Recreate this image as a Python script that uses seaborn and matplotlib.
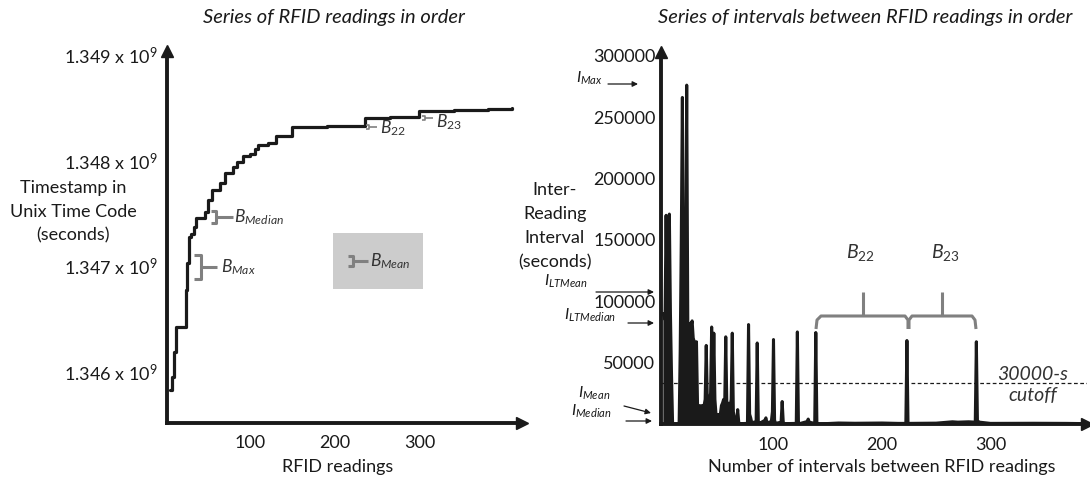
import matplotlib
matplotlib.use("Agg")
import matplotlib.pyplot as plt
import matplotlib.transforms as mtransforms
from matplotlib.lines import Line2D
from matplotlib.patches import Rectangle, FancyArrowPatch
import seaborn as sns

# Left panel: timestamp of each RFID reading (step points)
reading_no = [6, 8, 10, 11, 13, 25, 26, 28, 31, 34, 37, 47, 51, 55, 65, 70,
              80, 85, 92, 100, 106, 109, 121, 130, 149, 190, 235, 265, 299,
              340, 380, 408]
timestamp = [1345830000, 1345950000, 1346050000, 1346190000, 1346430000,
             1346780000, 1347030000, 1347280000, 1347310000, 1347370000,
             1347460000, 1347510000, 1347630000, 1347720000, 1347790000,
             1347880000, 1347940000, 1347990000, 1348040000, 1348060000,
             1348110000, 1348150000, 1348170000, 1348230000, 1348320000,
             1348330000, 1348400000, 1348410000, 1348470000, 1348480000,
             1348490000, 1348500000]

# Right panel: inter-reading interval (seconds)
interval_no = [-2, -1, 0, 1, 2, 3, 4, 5, 6, 7,
               13, 14, 15, 16, 17, 18, 19, 20, 21, 22, 23, 24, 25, 26, 27, 28, 29,
               30, 31, 32, 33, 34, 35, 36, 37, 38, 39, 40, 41, 42, 43, 44, 45, 46,
               47, 48, 49, 50, 51, 52, 53, 54, 55, 56, 57, 58, 59, 60, 61, 62, 63,
               64, 65, 66, 67, 68, 69,
               76, 77, 78, 79, 80,
               84, 85, 86, 87,
               92, 93, 94,
               98, 99, 100, 101, 102,
               107, 108, 109, 110,
               121, 122, 123, 124,
               131, 132, 133,
               138, 139, 140, 141,
               160, 175, 200, 215,
               222, 223, 224,
               250, 265, 270, 280,
               286, 287, 288, 290, 295, 300, 340, 370, 389]
interval_sec = [90000, 88000, 85000, 170000, 90000, 85000, 171000, 90000, 40000, 0,
                0, 60000, 150000, 266000, 100000, 82000, 120000, 276000, 82000, 80000,
                82000, 80000, 84000, 70000, 67000, 40000, 67000,
                15000, 14000, 15000, 12000, 15000, 14000, 15000, 20000, 64000, 20000,
                22000, 20000, 25000, 79000, 20000, 74000, 20000,
                8000, 7000, 7700, 7000, 8000, 15000, 17000, 20000, 15000, 71000,
                15000, 17000, 16000, 15000, 20000, 74000, 10000,
                5000, 3000, 1500, 11700, 1000, 300,
                500, 81000, 8000, 5000, 1000,
                2000, 66000, 2000, 500,
                3000, 5000, 1000,
                2000, 10000, 68800, 3000, 500,
                1500, 18300, 1500, 300,
                500, 75000, 1000, 300,
                2000, 4000, 1500,
                500, 74500, 1000, 0,
                800, 600, 800, 500,
                500, 68000, 500,
                700, 1800, 1500, 1800,
                1500, 67000, 2500, 1500, 1000, 500, 600, 500, 300]

cutoff_sec = 33000
ts_ticks = [1346000000, 1347000000, 1348000000, 1349000000]
ts_labels = ["1.346 x 10$^{9}$", "1.347 x 10$^{9}$", "1.348 x 10$^{9}$", "1.349 x 10$^{9}$"]
iv_ticks = [50000, 100000, 150000, 200000, 250000, 300000]
iv_labels = ["50000", "100000", "150000", "200000", "250000", "300000"]
x_ticks = [100, 200, 300]

sns.set_theme(style="white")
plt.rcParams["font.family"] = ["Lato", "DejaVu Sans"]
plt.rcParams["mathtext.fontset"] = "custom"
plt.rcParams["mathtext.rm"] = "Lato"
plt.rcParams["mathtext.it"] = "Lato:italic"
plt.rcParams["mathtext.bf"] = "Lato:bold"

W, H = 1090, 479
fig = plt.figure(figsize=(W / 100, H / 100), dpi=100)
# pixel coords, origin top-left, for the hand-placed annotations
pix = mtransforms.Affine2D().scale(1 / W, -1 / H).translate(0, 1) + fig.transFigure

ax1 = fig.add_axes([167 / W, 1 - 423 / H, (522 - 167) / W, (423 - 51) / H])
ax2 = fig.add_axes([661 / W, 1 - 424 / H, (1087 - 661) / W, (424 - 52) / H])

ink = "#1a1a1a"
grey = "#808080"
dark = "#333333"

sns.lineplot(x=reading_no, y=timestamp, ax=ax1, color="k", lw=2.3,
             drawstyle="steps-post", estimator=None, sort=False)
sns.lineplot(x=interval_no, y=interval_sec, ax=ax2, color="k", lw=2.2,
             estimator=None, sort=False)
ax2.fill_between(interval_no, interval_sec, color="k", lw=0)
ax2.axhline(cutoff_sec, color="k", lw=0.9, ls=(0, (3, 2)))

ax1.set_xlim(2.3, 420)
ax1.set_ylim(1345518000, 1349038000)
ax2.set_xlim(-3.7, 389)
ax2.set_ylim(0, 303000)

ax1.set_yticks(ts_ticks, ts_labels)
ax2.set_yticks(iv_ticks, iv_labels)
for ax in (ax1, ax2):
    ax.set_xticks(x_ticks, [str(t) for t in x_ticks])
    ax.tick_params(length=0, labelsize=13, labelcolor=ink)
    ax.tick_params(axis="x", pad=9)
    for s in ("top", "right"):
        ax.spines[s].set_visible(False)
    for s in ("left", "bottom"):
        ax.spines[s].set_linewidth(2.8)
        ax.spines[s].set_color("k")
    ax.plot(1, 0, ">", color="k", ms=9, transform=ax.transAxes, clip_on=False)
    ax.plot(0, 1, "^", color="k", ms=9, transform=ax.transAxes, clip_on=False)
ax1.tick_params(axis="y", pad=7)
ax2.tick_params(axis="y", pad=4)

# titles and axis labels
fig.text(334, 17, "Series of RFID readings in order", transform=pix, ha="center",
         va="center", fontsize=14.5, style="italic", color=ink)
fig.text(865, 17, "Series of intervals between RFID readings in order", transform=pix,
         ha="center", va="center", fontsize=14.5, style="italic", color=ink)
fig.text(338, 467, "RFID readings", transform=pix, ha="center", va="center",
         fontsize=13, color=ink)
fig.text(882, 467, "Number of intervals between RFID readings", transform=pix,
         ha="center", va="center", fontsize=13, color=ink)
fig.text(73, 212, "Timestamp in\nUnix Time Code\n(seconds)", transform=pix,
         ha="center", va="center", ma="center", fontsize=13, linespacing=1.6, color=ink)
fig.text(555, 226, "Inter-\nReading\nInterval\n(seconds)", transform=pix,
         ha="center", va="center", ma="center", fontsize=13, linespacing=1.62, color=ink)


def line(xs, ys, color=grey, lw=2.2):
    fig.add_artist(Line2D(xs, ys, transform=pix, color=color, lw=lw,
                          solid_capstyle="butt", solid_joinstyle="round"))


def bracket(x0, x1, ytop, ybot, x2, lw=2.2):
    ymid = (ytop + ybot) / 2
    line([x0, x1, x1, x0], [ytop, ytop, ybot, ybot], lw=lw)
    line([x1, x2], [ymid, ymid], lw=lw)


# left panel B annotations
fig.add_artist(Rectangle((333, 233), 90, 56, transform=pix, color="#cccccc", lw=0))
bracket(211, 216, 211, 223, 233)
fig.text(234, 222, "$B_{Median}$", transform=pix, fontsize=12.5, va="baseline", color=dark)
bracket(194, 201, 255, 279, 217)
fig.text(221, 272, "$B_{Max}$", transform=pix, fontsize=12.5, va="baseline", color=dark)
bracket(348, 353, 256, 266, 368)
fig.text(370, 266, "$B_{Mean}$", transform=pix, fontsize=12.5, va="baseline", color=dark)
bracket(366, 369, 125, 129, 377, lw=1.2)
fig.text(380, 133, "$B_{22}$", transform=pix, fontsize=12.5, va="baseline", color=dark)
bracket(422, 425, 116, 120, 433, lw=1.2)
fig.text(436, 127, "$B_{23}$", transform=pix, fontsize=12.5, va="baseline", color=dark)

# right panel braces over the gaps
line([816, 817, 821, 905, 908, 908], [329, 320, 316, 316, 320, 329])
line([863, 863], [316, 292])
line([909, 909, 912, 972, 975, 976], [329, 320, 316, 316, 320, 329])
line([942, 942], [316, 292])
fig.text(860, 258, "$B_{22}$", transform=pix, fontsize=14, ha="center", va="baseline", color=dark)
fig.text(945, 258, "$B_{23}$", transform=pix, fontsize=14, ha="center", va="baseline", color=dark)
fig.text(1033, 385, "30000-s\ncutoff", transform=pix, fontsize=14, ha="center", va="center",
         ma="center", style="italic", linespacing=1.25, color=dark)

# interval markers on the right y axis
arrow_kw = dict(arrowstyle="-|>", color="k", lw=0.9, mutation_scale=8, shrinkA=0, shrinkB=0)
marks = [("$I_{Max}$", 576, 83, (608, 84), (638, 84)),
         ("$I_{LTMean}$", 544, 286, (596, 292), (654, 292)),
         ("$I_{LTMedian}$", 564, 320, (628, 323), (654, 323)),
         ("$I_{Mean}$", 578, 398, (624, 406), (651, 413)),
         ("$I_{Median}$", 571, 416, (626, 421), (652, 421))]
for label, tx, ty, a0, a1 in marks:
    fig.text(tx, ty, label, transform=pix, fontsize=11.5, va="baseline", color=ink)
    fig.add_artist(FancyArrowPatch(a0, a1, transform=pix, **arrow_kw))

fig.savefig("out.png", dpi=100)
